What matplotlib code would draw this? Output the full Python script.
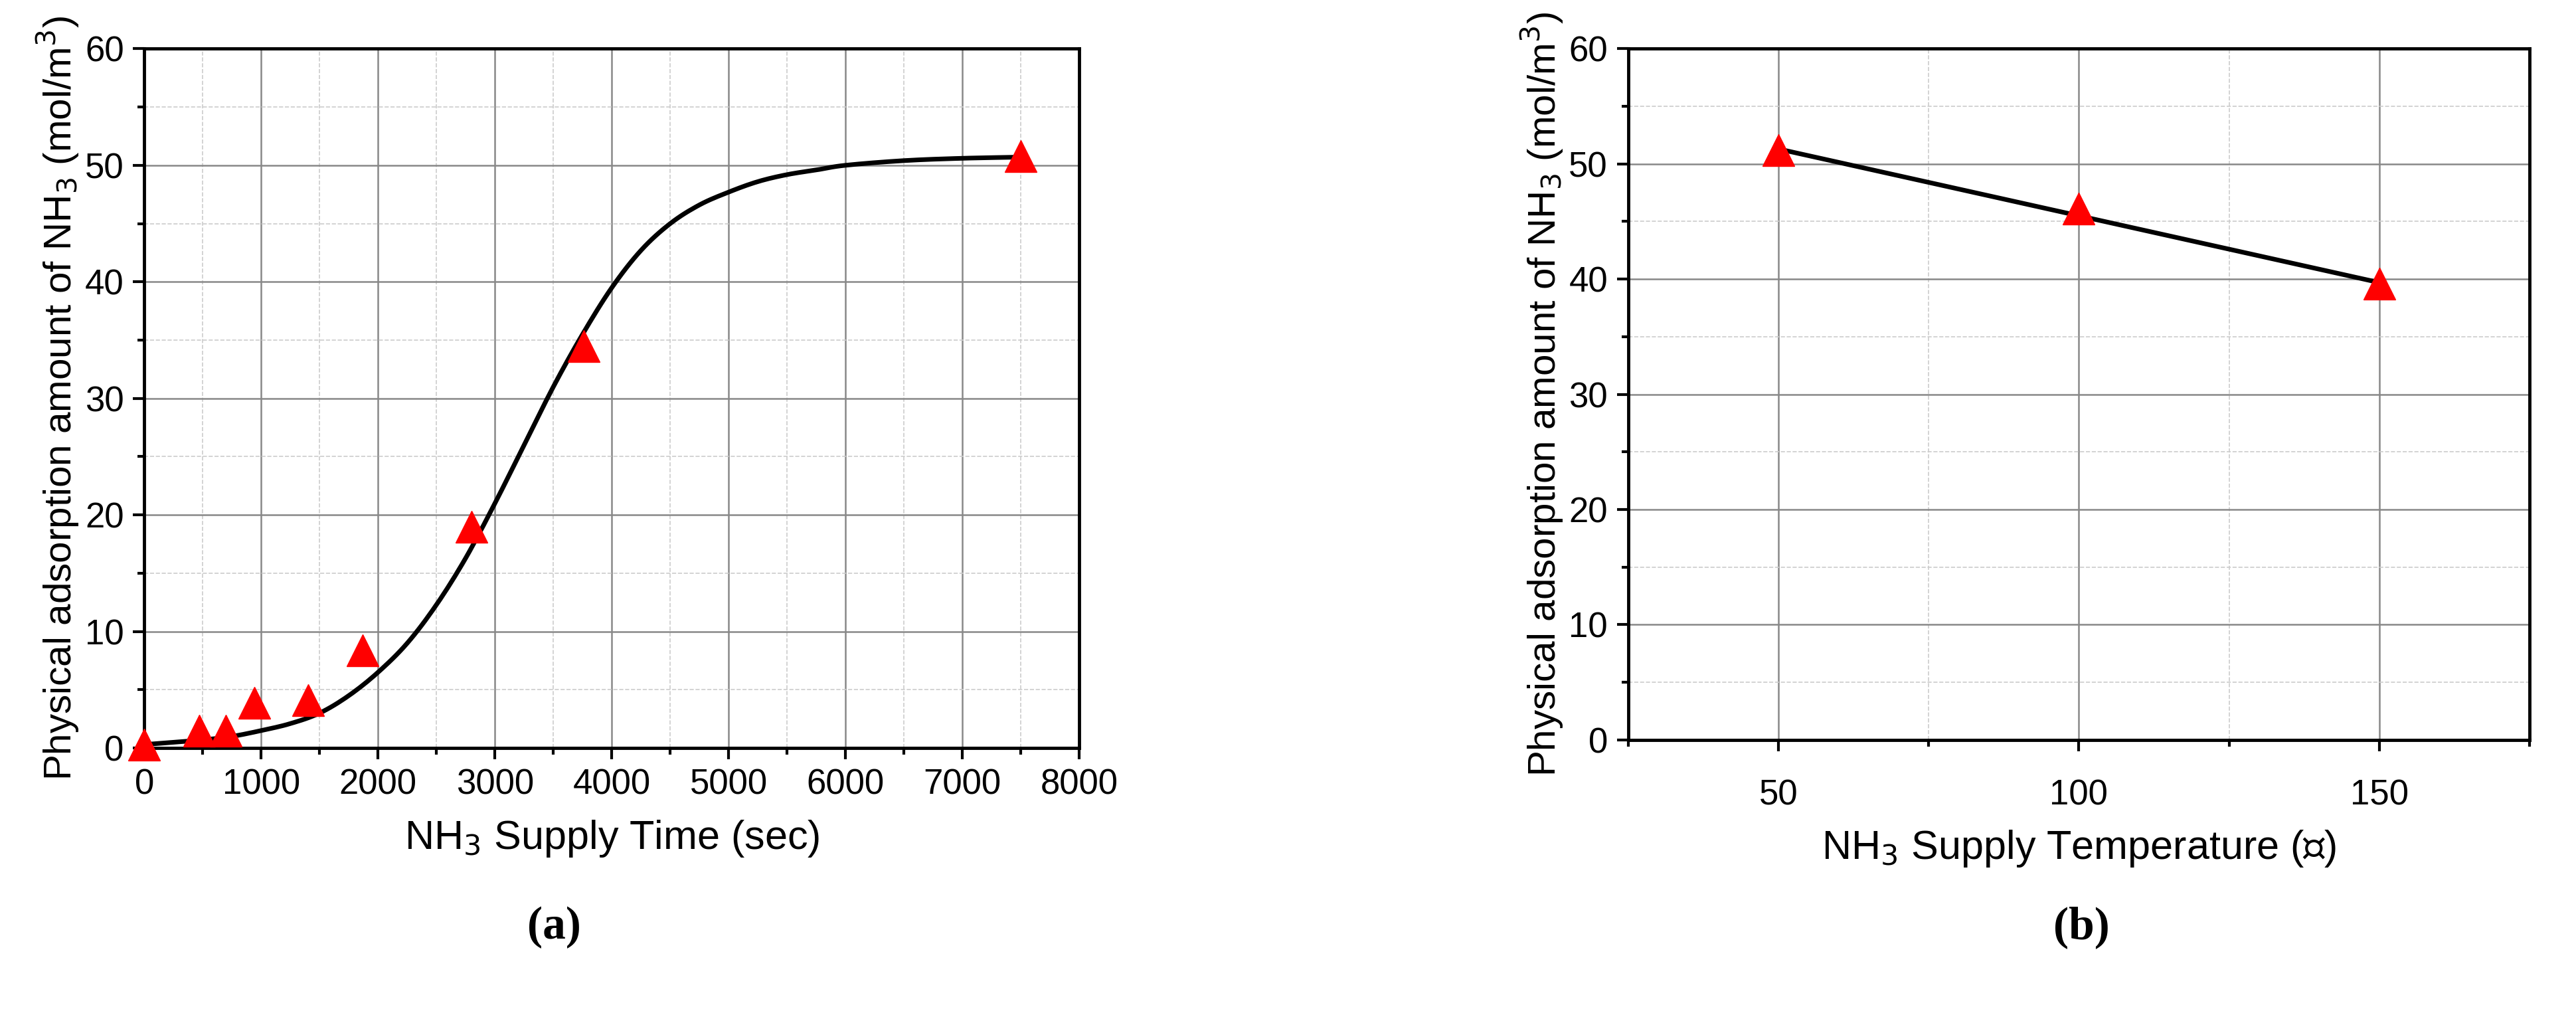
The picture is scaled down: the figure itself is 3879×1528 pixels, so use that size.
import matplotlib
matplotlib.use("Agg")
import matplotlib.pyplot as plt
import numpy as np
from matplotlib.ticker import MultipleLocator

plt.rcParams['font.family'] = ['Liberation Sans', 'DejaVu Sans']

time_s = [0, 470, 700, 940, 1400, 1870, 2800, 3760, 7500]
ads_time = [0.3, 1.5, 1.5, 3.9, 4.1, 8.4, 19.0, 34.5, 50.8]
fit_t = [0, 250, 500, 750, 1000, 1250, 1500, 1750, 2000, 2250, 2500, 2750, 3000, 3250, 3500,
         3750, 4000, 4250, 4500, 4750, 5000, 5250, 5500, 5750, 6000, 6500, 7000, 7500]
fit_y = [0.3, 0.5, 0.7, 1.0, 1.5, 2.1, 3.0, 4.5, 6.5, 9.0, 12.3, 16.3, 21.0, 26.0, 31.0,
         35.5, 39.5, 42.7, 45.0, 46.6, 47.7, 48.6, 49.2, 49.6, 50.0, 50.4, 50.6, 50.7]

temps = [50, 100, 150]
ads_temp = [51.2, 46.1, 39.6]
fit_temp_y = [51.3, 45.5, 39.7]

def smooth(x, y, n=8):
    # Catmull-Rom through read curve points, for a smooth drawn line
    x = np.asarray(x, float); y = np.asarray(y, float)
    P = np.column_stack([x, y])
    P = np.vstack([P[0], P, P[-1]])
    out = []
    for i in range(1, len(P) - 2):
        p0, p1, p2, p3 = P[i-1], P[i], P[i+1], P[i+2]
        for t in np.linspace(0, 1, n, endpoint=False):
            out.append(0.5 * ((2*p1) + (-p0 + p2)*t + (2*p0 - 5*p1 + 4*p2 - p3)*t**2
                              + (-p0 + 3*p1 - 3*p2 + p3)*t**3))
    out.append(P[-2])
    out = np.array(out)
    return out[:, 0], out[:, 1]

fig = plt.figure(figsize=(38.79, 15.28), dpi=100)
ax1 = fig.add_axes([0.056, 0.263, 0.363, 0.689])
ax2 = fig.add_axes([0.632, 0.271, 0.350, 0.681])

def style(ax):
    ax.set_ylim(0, 60)
    ax.yaxis.set_major_locator(MultipleLocator(10))
    ax.yaxis.set_minor_locator(MultipleLocator(5))
    ax.grid(which='major', color='#888888', lw=1.8, ls='-')
    ax.grid(which='minor', color='#cccccc', lw=1.2, ls='--')
    ax.set_axisbelow(True)
    for s in ax.spines.values():
        s.set_linewidth(3.5)
    ax.tick_params(which='major', length=12, width=3, labelsize=38, direction='out', pad=10)
    ax.tick_params(which='minor', length=7, width=3, direction='out')
    ax.set_ylabel('Physical adsorption amount of NH$_3$ (mol/m$^3$)', fontsize=42)

sx, sy = smooth(fit_t, fit_y)
ax1.plot(sx, sy, color='black', lw=5, zorder=3)
ax1.plot(time_s, ads_time, ls='none', marker='^', color='red', ms=34, zorder=4, clip_on=False)
ax1.set_xlim(0, 8000)
ax1.xaxis.set_major_locator(MultipleLocator(1000))
ax1.xaxis.set_minor_locator(MultipleLocator(500))
style(ax1)
ax1.set_xlabel('NH$_3$ Supply Time (sec)', fontsize=44, labelpad=18)

ax2.plot(temps, fit_temp_y, color='black', lw=5, zorder=3)
ax2.plot(temps, ads_temp, ls='none', marker='^', color='red', ms=34, zorder=4)
ax2.set_xlim(25, 175)
ax2.set_xticks(temps)
ax2.xaxis.set_minor_locator(MultipleLocator(25))
style(ax2)
ax2.tick_params(axis='x', which='major', pad=30)
ax2.set_xlabel('NH$_3$ Supply Temperature (℃)', fontsize=44, labelpad=18)

fig.text(0.215, 0.075, '(a)', ha='center', fontsize=50, family='Liberation Serif', weight='bold')
fig.text(0.808, 0.075, '(b)', ha='center', fontsize=50, family='Liberation Serif', weight='bold')

fig.savefig('out.png', dpi=100)
